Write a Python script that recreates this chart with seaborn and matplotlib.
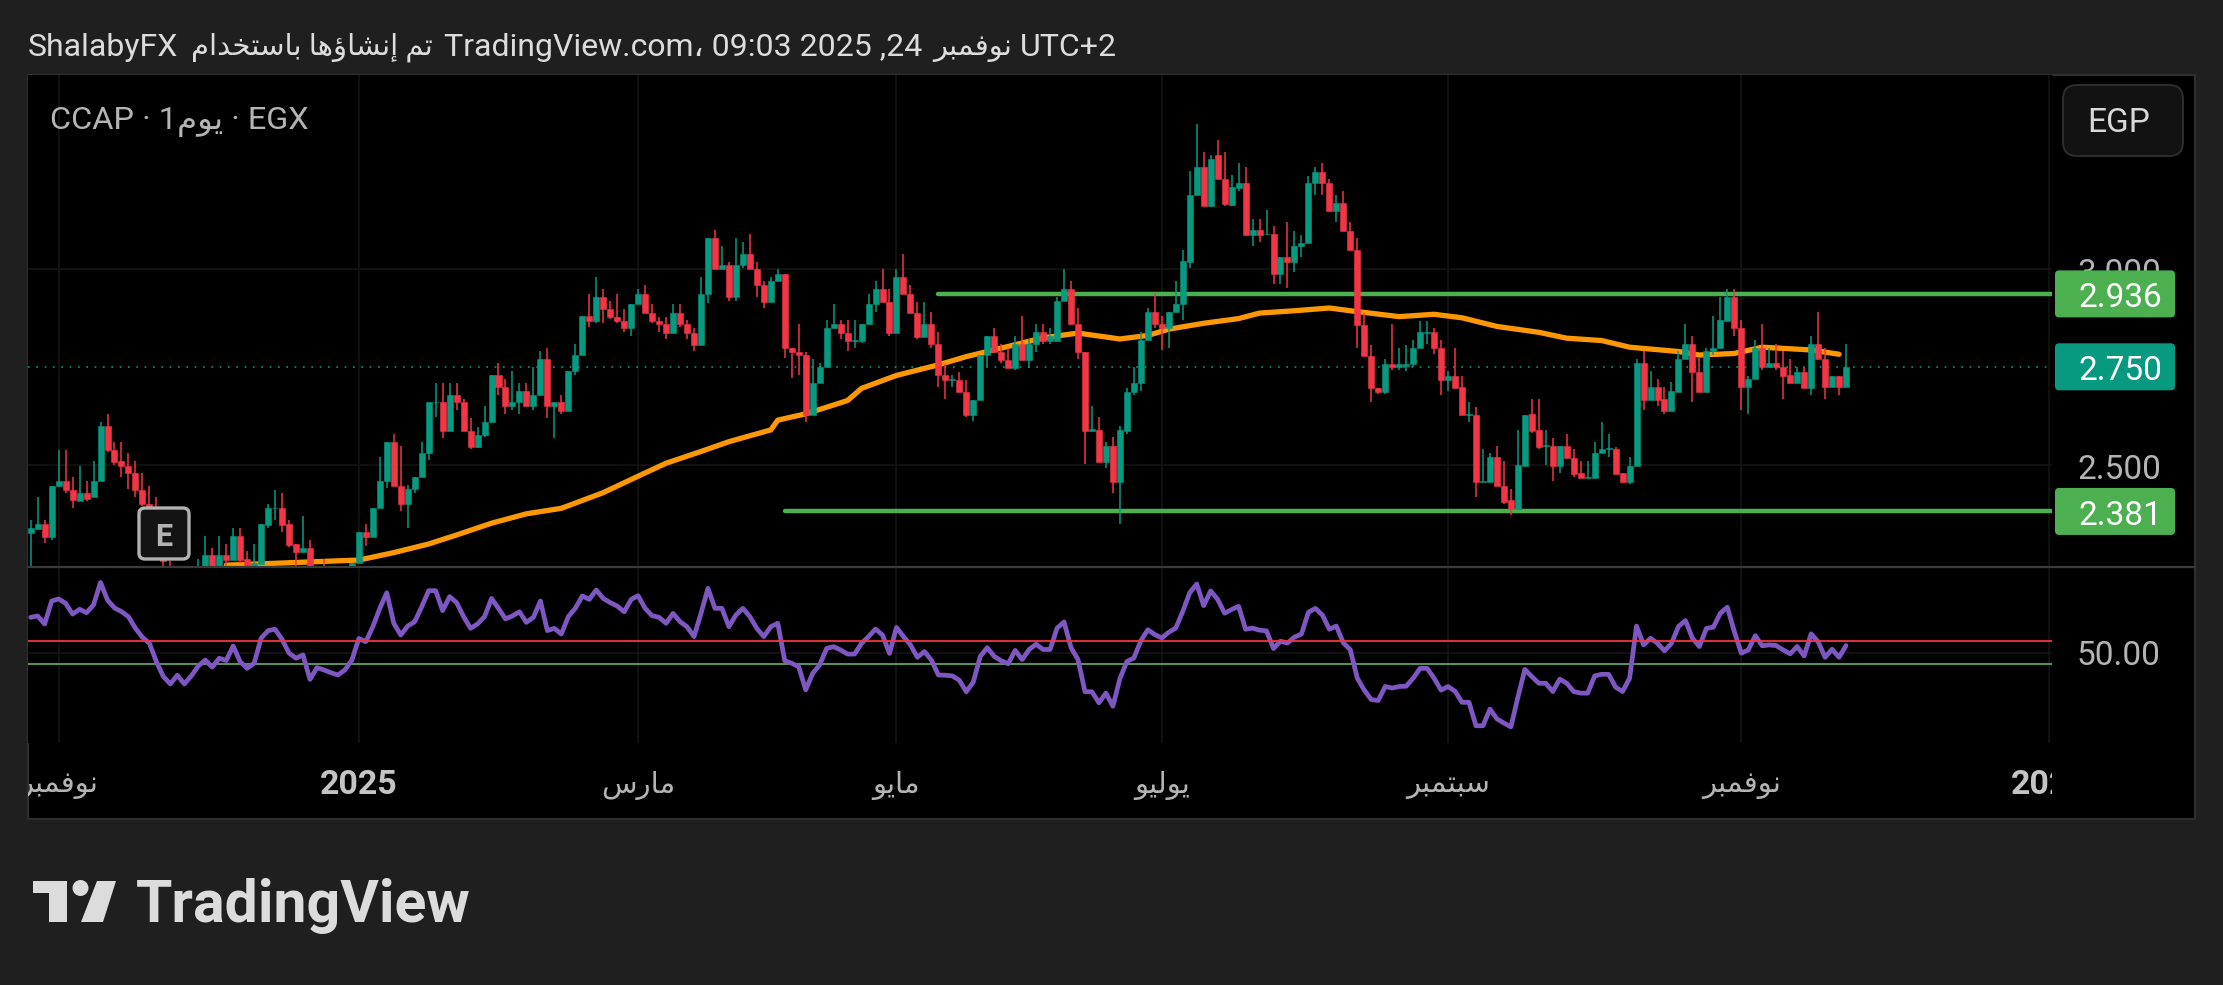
import matplotlib
matplotlib.use("Agg")
import matplotlib.pyplot as plt
import numpy as np
import pandas as pd
import seaborn as sns
from matplotlib.lines import Line2D
from matplotlib.patches import Circle, FancyBboxPatch, Polygon
from matplotlib.transforms import Affine2D, Bbox, ScaledTranslation

# Daily candles (261 sessions, Nov 2024 - Nov 2025)
opens = [
    2.327, 2.337, 2.348, 2.316, 2.447, 2.458, 2.437, 2.408, 2.427, 2.417,
    2.458, 2.599, 2.539, 2.509, 2.498, 2.478, 2.437, 2.401, 2.372, 2.325,
    2.238, 2.230, 2.220, 2.222, 2.228, 2.236, 2.270, 2.236, 2.270, 2.257,
    2.318, 2.259, 2.232, 2.247, 2.346, 2.389, 2.389, 2.348, 2.297, 2.277,
    2.289, 2.230, 2.238, 2.222, 2.226, 2.228, 2.236, 2.249, 2.328, 2.317,
    2.389, 2.459, 2.559, 2.447, 2.399, 2.438, 2.468, 2.529, 2.660, 2.660,
    2.587, 2.678, 2.660, 2.587, 2.546, 2.576, 2.608, 2.729, 2.698, 2.649,
    2.659, 2.688, 2.649, 2.678, 2.770, 2.649, 2.659, 2.638, 2.739, 2.780,
    2.880, 2.868, 2.927, 2.898, 2.878, 2.868, 2.848, 2.909, 2.937, 2.888,
    2.868, 2.858, 2.837, 2.888, 2.858, 2.837, 2.806, 2.937, 3.078, 2.999,
    3.009, 2.927, 3.009, 3.039, 2.999, 2.958, 2.916, 2.968, 2.988, 2.797,
    2.789, 2.780, 2.627, 2.708, 2.749, 2.848, 2.858, 2.837, 2.817, 2.817,
    2.858, 2.909, 2.948, 2.916, 2.837, 2.978, 2.937, 2.888, 2.827, 2.858,
    2.807, 2.728, 2.717, 2.717, 2.687, 2.627, 2.666, 2.779, 2.829, 2.789,
    2.767, 2.748, 2.808, 2.767, 2.808, 2.838, 2.817, 2.817, 2.918, 2.949,
    2.858, 2.789, 2.587, 2.589, 2.508, 2.549, 2.457, 2.587, 2.687, 2.708,
    2.818, 2.890, 2.858, 2.848, 2.890, 2.909, 3.018, 3.188, 3.260, 3.159,
    3.290, 3.228, 3.163, 3.206, 3.218, 3.087, 3.099, 3.088, 3.089, 2.988,
    3.029, 3.018, 3.057, 3.067, 3.218, 3.248, 3.218, 3.148, 3.168, 3.097,
    3.047, 2.857, 2.777, 2.697, 2.685, 2.757, 2.749, 2.752, 2.757, 2.797,
    2.837, 2.839, 2.797, 2.717, 2.727, 2.699, 2.628, 2.628, 2.456, 2.456,
    2.520, 2.446, 2.409, 2.386, 2.497, 2.629, 2.589, 2.549, 2.549, 2.498,
    2.549, 2.518, 2.478, 2.467, 2.467, 2.529, 2.540, 2.540, 2.478, 2.457,
    2.498, 2.759, 2.665, 2.699, 2.667, 2.637, 2.687, 2.769, 2.808, 2.738,
    2.687, 2.790, 2.797, 2.868, 2.929, 2.848, 2.698, 2.718, 2.799, 2.749,
    2.759, 2.749, 2.729, 2.708, 2.738, 2.697, 2.808, 2.769, 2.698, 2.727, 2.698,
]
closes = [
    2.338, 2.348, 2.316, 2.447, 2.458, 2.435, 2.410, 2.427, 2.414, 2.458,
    2.599, 2.537, 2.507, 2.497, 2.478, 2.435, 2.401, 2.372, 2.325, 2.254,
    2.225, 2.220, 2.228, 2.230, 2.238, 2.270, 2.236, 2.270, 2.257, 2.318,
    2.257, 2.236, 2.249, 2.348, 2.389, 2.391, 2.346, 2.295, 2.277, 2.287,
    2.232, 2.225, 2.230, 2.230, 2.232, 2.234, 2.249, 2.328, 2.317, 2.389,
    2.459, 2.559, 2.447, 2.399, 2.438, 2.468, 2.529, 2.660, 2.661, 2.587,
    2.678, 2.660, 2.587, 2.546, 2.576, 2.609, 2.729, 2.698, 2.649, 2.659,
    2.688, 2.649, 2.678, 2.770, 2.649, 2.659, 2.638, 2.739, 2.780, 2.880,
    2.868, 2.927, 2.898, 2.878, 2.868, 2.848, 2.909, 2.937, 2.888, 2.868,
    2.858, 2.837, 2.888, 2.858, 2.837, 2.806, 2.937, 3.078, 2.999, 3.009,
    2.927, 3.009, 3.039, 2.999, 2.958, 2.916, 2.968, 2.988, 2.797, 2.789,
    2.780, 2.627, 2.708, 2.749, 2.848, 2.858, 2.837, 2.817, 2.818, 2.858,
    2.909, 2.948, 2.916, 2.837, 2.978, 2.937, 2.888, 2.827, 2.858, 2.807,
    2.728, 2.717, 2.719, 2.687, 2.627, 2.666, 2.779, 2.829, 2.789, 2.767,
    2.748, 2.808, 2.767, 2.808, 2.838, 2.817, 2.829, 2.918, 2.949, 2.858,
    2.789, 2.587, 2.591, 2.508, 2.549, 2.457, 2.589, 2.687, 2.708, 2.818,
    2.890, 2.858, 2.848, 2.890, 2.909, 3.019, 3.188, 3.260, 3.159, 3.280,
    3.228, 3.165, 3.208, 3.218, 3.087, 3.099, 3.087, 3.090, 2.988, 3.029,
    3.018, 3.057, 3.067, 3.218, 3.248, 3.218, 3.148, 3.168, 3.097, 3.047,
    2.857, 2.777, 2.695, 2.685, 2.757, 2.749, 2.757, 2.757, 2.797, 2.839,
    2.839, 2.797, 2.717, 2.727, 2.696, 2.628, 2.630, 2.456, 2.459, 2.520,
    2.446, 2.406, 2.386, 2.500, 2.628, 2.587, 2.546, 2.551, 2.498, 2.549,
    2.518, 2.477, 2.467, 2.470, 2.531, 2.540, 2.542, 2.477, 2.457, 2.498,
    2.759, 2.665, 2.699, 2.665, 2.637, 2.688, 2.769, 2.808, 2.738, 2.687,
    2.790, 2.797, 2.869, 2.929, 2.848, 2.698, 2.718, 2.799, 2.749, 2.759,
    2.749, 2.727, 2.708, 2.738, 2.697, 2.808, 2.769, 2.698, 2.727, 2.698, 2.750,
]
highs = [
    2.359, 2.417, 2.359, 2.447, 2.539, 2.539, 2.468, 2.498, 2.458, 2.509,
    2.609, 2.629, 2.558, 2.558, 2.529, 2.509, 2.478, 2.447, 2.417, 2.335,
    2.254, 2.236, 2.235, 2.235, 2.259, 2.318, 2.289, 2.318, 2.298, 2.338,
    2.338, 2.279, 2.298, 2.348, 2.400, 2.437, 2.427, 2.359, 2.297, 2.369,
    2.308, 2.235, 2.259, 2.236, 2.236, 2.236, 2.249, 2.328, 2.349, 2.389,
    2.519, 2.559, 2.578, 2.548, 2.449, 2.468, 2.558, 2.660, 2.708, 2.708,
    2.708, 2.708, 2.668, 2.619, 2.597, 2.650, 2.729, 2.759, 2.718, 2.739,
    2.708, 2.708, 2.750, 2.790, 2.797, 2.659, 2.678, 2.739, 2.808, 2.880,
    2.937, 2.980, 2.948, 2.918, 2.937, 2.898, 2.909, 2.948, 2.958, 2.909,
    2.878, 2.878, 2.909, 2.909, 2.869, 2.848, 2.978, 3.078, 3.099, 3.058,
    3.018, 3.078, 3.068, 3.089, 3.018, 2.968, 2.978, 2.999, 2.988, 2.797,
    2.858, 2.789, 2.769, 2.759, 2.869, 2.909, 2.869, 2.869, 2.869, 2.858,
    2.937, 2.968, 2.999, 2.948, 2.999, 3.039, 2.958, 2.916, 2.916, 2.890,
    2.838, 2.756, 2.728, 2.738, 2.717, 2.666, 2.779, 2.829, 2.848, 2.808,
    2.798, 2.829, 2.879, 2.820, 2.859, 2.859, 2.848, 2.928, 3.000, 2.968,
    2.899, 2.789, 2.649, 2.621, 2.558, 2.570, 2.599, 2.697, 2.750, 2.838,
    2.899, 2.938, 2.879, 2.890, 2.969, 3.048, 3.250, 3.369, 3.297, 3.290,
    3.329, 3.297, 3.239, 3.269, 3.259, 3.127, 3.127, 3.149, 3.109, 3.029,
    3.119, 3.097, 3.087, 3.238, 3.259, 3.269, 3.228, 3.188, 3.198, 3.119,
    3.079, 2.887, 2.806, 2.697, 2.769, 2.858, 2.797, 2.806, 2.818, 2.868,
    2.868, 2.848, 2.818, 2.739, 2.797, 2.727, 2.659, 2.648, 2.540, 2.530,
    2.547, 2.510, 2.438, 2.588, 2.628, 2.667, 2.667, 2.589, 2.568, 2.549,
    2.579, 2.540, 2.510, 2.510, 2.557, 2.608, 2.579, 2.546, 2.478, 2.521,
    2.769, 2.790, 2.739, 2.719, 2.698, 2.710, 2.790, 2.859, 2.828, 2.772,
    2.797, 2.880, 2.929, 2.948, 2.948, 2.869, 2.727, 2.818, 2.859, 2.797,
    2.808, 2.790, 2.769, 2.750, 2.749, 2.828, 2.889, 2.797, 2.727, 2.727, 2.808,
]
lows = [
    2.236, 2.337, 2.300, 2.308, 2.447, 2.429, 2.391, 2.408, 2.408, 2.417,
    2.458, 2.533, 2.500, 2.470, 2.439, 2.418, 2.395, 2.359, 2.308, 2.241,
    2.220, 2.215, 2.215, 2.215, 2.220, 2.230, 2.230, 2.230, 2.236, 2.257,
    2.249, 2.230, 2.230, 2.247, 2.338, 2.359, 2.329, 2.291, 2.236, 2.277,
    2.227, 2.220, 2.225, 2.220, 2.220, 2.225, 2.236, 2.249, 2.292, 2.317,
    2.389, 2.440, 2.447, 2.381, 2.340, 2.428, 2.468, 2.511, 2.621, 2.569,
    2.587, 2.640, 2.587, 2.540, 2.542, 2.570, 2.608, 2.678, 2.630, 2.640,
    2.630, 2.649, 2.640, 2.678, 2.620, 2.569, 2.630, 2.638, 2.729, 2.780,
    2.851, 2.861, 2.861, 2.871, 2.861, 2.840, 2.829, 2.909, 2.888, 2.861,
    2.840, 2.820, 2.837, 2.851, 2.820, 2.790, 2.806, 2.912, 2.999, 2.999,
    2.919, 2.919, 3.001, 2.999, 2.929, 2.901, 2.916, 2.968, 2.772, 2.721,
    2.729, 2.610, 2.627, 2.708, 2.749, 2.848, 2.820, 2.791, 2.799, 2.810,
    2.858, 2.891, 2.916, 2.829, 2.837, 2.937, 2.888, 2.820, 2.827, 2.798,
    2.699, 2.669, 2.699, 2.687, 2.621, 2.611, 2.666, 2.750, 2.789, 2.760,
    2.748, 2.741, 2.767, 2.748, 2.789, 2.808, 2.808, 2.817, 2.918, 2.858,
    2.770, 2.501, 2.587, 2.508, 2.491, 2.429, 2.350, 2.579, 2.678, 2.688,
    2.818, 2.849, 2.792, 2.798, 2.890, 2.870, 3.001, 3.188, 3.159, 3.159,
    3.228, 3.160, 3.160, 3.198, 3.087, 3.059, 3.069, 3.087, 2.960, 2.960,
    2.950, 2.991, 3.031, 3.067, 3.188, 3.188, 3.148, 3.119, 3.097, 3.047,
    2.797, 2.777, 2.661, 2.681, 2.681, 2.741, 2.741, 2.739, 2.749, 2.797,
    2.807, 2.782, 2.678, 2.688, 2.696, 2.628, 2.610, 2.419, 2.456, 2.456,
    2.446, 2.399, 2.371, 2.386, 2.497, 2.580, 2.540, 2.500, 2.459, 2.480,
    2.518, 2.470, 2.467, 2.467, 2.467, 2.529, 2.521, 2.477, 2.457, 2.450,
    2.498, 2.640, 2.665, 2.650, 2.630, 2.637, 2.687, 2.769, 2.661, 2.687,
    2.687, 2.780, 2.797, 2.868, 2.829, 2.640, 2.630, 2.718, 2.742, 2.749,
    2.742, 2.668, 2.708, 2.708, 2.697, 2.678, 2.769, 2.668, 2.698, 2.678, 2.698,
]

# Orange moving average, read at the bars where its slope changes
ma_bars = [
    28, 44, 47, 52, 57, 61, 66, 71, 76, 82, 87, 91, 96, 100, 106, 107,
    111, 117, 119, 124, 130, 134, 140, 145, 150, 156, 160, 163, 168, 173,
    176, 181, 186, 189, 196, 201, 205, 210, 216, 220, 225, 229, 236, 239,
    244, 248, 255, 259,
]
ma_values = [
    2.244, 2.255, 2.257, 2.276, 2.298, 2.321, 2.351, 2.375, 2.389, 2.429,
    2.471, 2.504, 2.534, 2.559, 2.589, 2.614, 2.630, 2.664, 2.695, 2.728,
    2.755, 2.776, 2.802, 2.824, 2.836, 2.821, 2.830, 2.846, 2.861, 2.873,
    2.887, 2.893, 2.900, 2.893, 2.878, 2.884, 2.875, 2.853, 2.838, 2.823,
    2.817, 2.800, 2.789, 2.780, 2.784, 2.800, 2.793, 2.782,
]

# Lower pane oscillator
rsi_values = [
    65.4, 66.0, 62.5, 72.5, 73.4, 71.5, 66.8, 68.9, 67.4, 70.8,
    80.6, 72.9, 69.5, 67.9, 65.7, 60.6, 56.7, 54.1, 46.1, 39.6,
    36.4, 40.2, 36.4, 39.9, 44.2, 46.8, 43.7, 47.6, 46.6, 52.9,
    46.1, 43.2, 45.4, 56.3, 59.6, 60.2, 55.8, 49.8, 47.6, 49.0,
    38.4, 43.5, 42.5, 41.3, 40.3, 42.5, 46.8, 56.2, 54.8, 61.3,
    69.3, 76.1, 62.8, 57.7, 61.6, 63.5, 70.0, 77.0, 77.0, 68.3,
    74.4, 71.8, 65.7, 60.6, 62.5, 65.7, 73.6, 69.3, 64.7, 66.0,
    67.8, 63.2, 65.4, 72.5, 59.6, 60.6, 58.1, 65.7, 69.3, 74.7,
    73.2, 77.3, 73.6, 71.8, 70.3, 67.8, 73.2, 74.8, 69.3, 66.1,
    65.4, 62.8, 67.1, 63.5, 61.3, 57.0, 67.1, 78.0, 69.3, 69.3,
    61.3, 66.4, 69.3, 65.7, 60.6, 57.0, 61.3, 62.8, 46.5, 45.4,
    43.9, 33.8, 41.0, 44.7, 51.9, 52.6, 51.2, 49.4, 49.4, 54.1,
    57.0, 60.3, 57.7, 49.7, 61.0, 57.0, 53.4, 48.0, 50.5, 46.8,
    40.3, 40.2, 39.9, 38.0, 33.0, 37.2, 48.4, 52.2, 48.4, 46.5,
    45.2, 51.0, 47.0, 51.4, 53.7, 51.4, 51.4, 60.7, 63.4, 52.2,
    47.0, 33.0, 33.0, 28.2, 32.4, 26.7, 38.7, 46.2, 47.7, 55.2,
    60.0, 57.9, 56.4, 58.9, 60.7, 67.9, 76.1, 79.9, 70.5, 76.9,
    73.2, 67.2, 68.8, 70.2, 60.2, 60.7, 59.8, 59.5, 51.8, 55.0,
    54.2, 56.8, 58.1, 67.6, 69.3, 66.4, 60.2, 61.6, 54.3, 51.3,
    38.9, 33.7, 29.6, 29.2, 35.3, 34.6, 35.3, 35.4, 38.9, 43.2,
    43.2, 38.9, 33.7, 35.3, 33.2, 28.4, 28.4, 18.2, 18.2, 25.5,
    21.2, 19.4, 17.7, 30.6, 42.7, 39.6, 36.7, 36.7, 33.1, 38.5,
    36.7, 33.1, 32.4, 32.4, 39.9, 40.6, 40.6, 35.0, 33.1, 38.9,
    61.6, 53.4, 56.3, 54.1, 50.8, 54.1, 61.4, 64.0, 56.3, 52.7,
    60.6, 61.1, 67.2, 69.8, 59.2, 49.8, 51.2, 57.4, 53.0, 53.4,
    53.1, 51.2, 49.5, 52.7, 48.6, 58.2, 54.8, 48.0, 51.5, 48.0, 53.1,
]
rsi_upper = 55
rsi_lower = 45
rsi_ticks = [50]

# Levels and axes
resistance = 2.936
resistance_start = 130
support = 2.381
support_start = 108
last_price = 2.750
price_ticks = [3.0, 2.5]
month_bars = [4, 47, 87, 124, 162, 203, 245, 289]
label_bars = [4, 47, 87, 124, 162, 203, 245, 289.2]
month_names = ["نوفمبر", "2025", "مارس", "مايو", "يوليو", "سبتمبر", "نوفمبر", "2026"]

W, H = 2223, 985
GREEN = "#089981"
RED = "#f23645"
LEVEL = "#4caf50"
ORANGE = "#ff9800"
PURPLE = "#7e57c2"
GRID = "#141414"
BORDER = "#2e2e2e"
TICK = "#b4b4b4"

# matplotlib does not join Arabic letters, so pick the forms here
JOINING = {
    "ب": "\ufe8f\ufe90\ufe91\ufe92", "ت": "\ufe95\ufe96\ufe97\ufe98",
    "خ": "\ufea5\ufea6\ufea7\ufea8", "س": "\ufeb1\ufeb2\ufeb3\ufeb4",
    "ش": "\ufeb5\ufeb6\ufeb7\ufeb8", "ف": "\ufed1\ufed2\ufed3\ufed4",
    "ل": "\ufedd\ufede\ufedf\ufee0", "م": "\ufee1\ufee2\ufee3\ufee4",
    "ن": "\ufee5\ufee6\ufee7\ufee8", "ه": "\ufee9\ufeea\ufeeb\ufeec",
    "ي": "\ufef1\ufef2\ufef3\ufef4",
}
RIGHT_ONLY = {
    "ا": "\ufe8d\ufe8e", "إ": "\ufe87\ufe88", "ؤ": "\ufe85\ufe86",
    "د": "\ufea9\ufeaa", "ر": "\ufead\ufeae", "و": "\ufeed\ufeee",
}


def ar(word):
    out = []
    for i, ch in enumerate(word):
        if ch not in JOINING and ch not in RIGHT_ONLY:
            out.append(ch)
            continue
        prev_joins = i > 0 and word[i - 1] in JOINING
        next_joins = ch in JOINING and i + 1 < len(word) and (
            word[i + 1] in JOINING or word[i + 1] in RIGHT_ONLY)
        forms = JOINING.get(ch, RIGHT_ONLY.get(ch))
        if next_joins:
            out.append(forms[3] if prev_joins else forms[2])
        else:
            out.append(forms[1] if prev_joins else forms[0])
    return "".join(reversed(out))


sns.set_theme(style="dark")
plt.rcParams["font.family"] = ["Roboto", "DejaVu Sans"]

fig = plt.figure(figsize=(W / 100, H / 100), dpi=100, facecolor="#1f1f1f")
to_fig = Affine2D().scale(1 / W, -1 / H).translate(0, 1) + fig.transFigure


def px_box(x0, y0, x1, y1, face, edge="none", lw=0, radius=4, zorder=2):
    box = FancyBboxPatch((x0, y0), x1 - x0, y1 - y0, boxstyle=f"round,pad=0,rounding_size={radius}",
                         transform=to_fig, facecolor=face, edgecolor=edge, linewidth=lw, zorder=zorder)
    fig.add_artist(box)


def px_text(x, y, s, **kw):
    return fig.text(x / W, 1 - y / H, s, va="center_baseline", **kw)


# Chart card behind both panes
px_box(28, 75, 2195, 819, "#000000", BORDER, 1.6, radius=0, zorder=-1)

ax = fig.add_axes([28 / W, 1 - 567 / H, 2024 / W, 492 / H], facecolor="#000000")
ax_rsi = fig.add_axes([28 / W, 1 - 743 / H, 2024 / W, 176 / H], facecolor="#000000")

bars = np.arange(len(closes))
o = np.array(opens)
c = np.array(closes)
colors = [GREEN if up else RED for up in c >= o]

# Levels and average sit under the candles
ax.axhline(last_price, color=GREEN, lw=1.2, ls=(0, (1, 4)), zorder=1.5)
ax.plot([resistance_start, 290], [resistance, resistance], color=LEVEL, lw=3.2, solid_capstyle="round", zorder=1.6)
ax.plot([support_start, 290], [support, support], color=LEVEL, lw=3.2, solid_capstyle="round", zorder=1.6)
sns.lineplot(data=pd.DataFrame({"bar": ma_bars, "ma": ma_values}), x="bar", y="ma", ax=ax,
             color=ORANGE, linewidth=3.8, estimator=None, sort=False, zorder=1.8, solid_capstyle="round")

# Candles
ax.vlines(bars, lows, highs, colors=colors, lw=1.1, zorder=3)
ax.bar(bars, np.abs(c - o), bottom=np.minimum(o, c), width=0.86, color=colors,
       edgecolor=colors, linewidth=0.4, zorder=3)

ax.set_xlim(-0.387, 289.5)
ax.set_ylim(2.2393, 3.4944)
ax.set_xlabel("")
ax.set_ylabel("")
ax.set_xticks(month_bars)
ax.tick_params(axis="x", length=0, labelbottom=False)
ax.yaxis.tick_right()
ax.set_yticks(price_ticks)
ax.set_yticklabels(["3.000", "2.500"], va="center_baseline")
ax.tick_params(axis="y", length=0, pad=18.7, labelsize=24, labelcolor=TICK)
# The price scale text sits a little under its gridline
for lbl in ax.get_yticklabels():
    lbl.set_transform(lbl.get_transform() + ScaledTranslation(0, -2 / 100, fig.dpi_scale_trans))

# Oscillator pane
sns.lineplot(data=pd.DataFrame({"bar": bars, "rsi": rsi_values}), x="bar", y="rsi", ax=ax_rsi,
             color=PURPLE, linewidth=3.4, estimator=None, sort=False, zorder=3)
ax_rsi.axhline(rsi_upper, color=RED, lw=1.5, zorder=3.5, alpha=0.9)
ax_rsi.axhline(rsi_lower, color="#5a8f5c", lw=1.5, zorder=2.5)
ax_rsi.set_xlim(ax.get_xlim())
ax_rsi.set_ylim(10.7, 87.3)
ax_rsi.set_xlabel("")
ax_rsi.set_ylabel("")
ax_rsi.set_xticks(month_bars)
ax_rsi.tick_params(axis="x", length=0, labelbottom=False)
ax_rsi.yaxis.tick_right()
ax_rsi.set_yticks(rsi_ticks)
ax_rsi.set_yticklabels(["50.00"], va="center_baseline")
ax_rsi.tick_params(axis="y", length=0, pad=18, labelsize=24, labelcolor=TICK)

for a in (ax, ax_rsi):
    a.grid(True, color=GRID, lw=1.2)
    a.set_axisbelow(True)
    for spine in a.spines.values():
        spine.set_visible(False)

# Time labels, clipped at the edges of the plot like the original
clip = Bbox.from_extents(28, 0, 2052, H)
for bar, name in zip(label_bars, month_names):
    year = name.isdigit()
    t = ax_rsi.text(bar, -42 / 176, name if year else ar(name), transform=ax_rsi.get_xaxis_transform(),
                    ha="center", va="center", fontsize=24.5 if year else 21,
                    color="#c4c4c4" if year else TICK, fontweight="bold" if year else "normal", clip_on=True)
    t.set_clip_path(None)
    t.set_clip_box(clip)

# Pane separator
fig.add_artist(Line2D([28, 2195], [567, 567], transform=to_fig, color="#3a3a3a", lw=1.6, zorder=1))

# Price labels on the right
for value, label, face in [(resistance, "2.936", LEVEL), (last_price, "2.750", GREEN), (support, "2.381", LEVEL)]:
    y_px = H - ax.transData.transform((0, value))[1]
    px_box(2055, y_px - 23.5, 2175, y_px + 23.5, face)
    px_text(2078, y_px + 1, label, fontsize=24, color="#ffffff", zorder=3)

# Currency button
px_box(2063, 85, 2183, 156, "#121212", "#2e2e2e", 1.4, radius=14)
px_text(2119, 120, "EGP", fontsize=24, color="#d8d8d8", ha="center", zorder=3)

# Earnings marker
px_box(139, 508, 189, 559, "#131313", "#b2b2b2", 2.4, radius=6, zorder=4)
px_text(164, 534, "E", fontsize=22, fontweight="bold", color="#b2b2b2", ha="center", zorder=5)

# Header and symbol line, Arabic runs a little smaller because DejaVu is wide
HEAD = "#dcdcdc"
px_text(28, 44, "ShalabyFX", fontsize=23, color=HEAD)
px_text(191, 44, f"{ar('باستخدام')} {ar('إنشاؤها')} {ar('تم')}", fontsize=21, color=HEAD)
px_text(444, 44, f"TradingView.com{ar('،')} 09:03 2025 ,24", fontsize=23, color=HEAD)
px_text(933, 44, ar("نوفمبر"), fontsize=21, color=HEAD)
px_text(1020, 44, "UTC+2", fontsize=23, color=HEAD)
px_text(50, 118, f"CCAP · 1{ar('يوم')} · EGX", fontsize=23.4, color="#b4b4b4", zorder=3)

# TradingView logo
LOGO = "#dcdcdc"
fig.add_artist(Polygon([(33, 881), (67, 881), (67, 922), (49, 922), (49, 893), (33, 893)],
                       transform=to_fig, facecolor=LOGO, edgecolor="none", zorder=2))
fig.add_artist(Circle((80.5, 888), 8, transform=to_fig, facecolor=LOGO, edgecolor="none", zorder=2))
fig.add_artist(Polygon([(97, 881), (116, 881), (103, 922), (81, 922)],
                       transform=to_fig, facecolor=LOGO, edgecolor="none", zorder=2))
px_text(136, 900, "TradingView", fontsize=42.5, fontweight="bold", color=LOGO)

fig.savefig("out.png", dpi=100, facecolor=fig.get_facecolor())
